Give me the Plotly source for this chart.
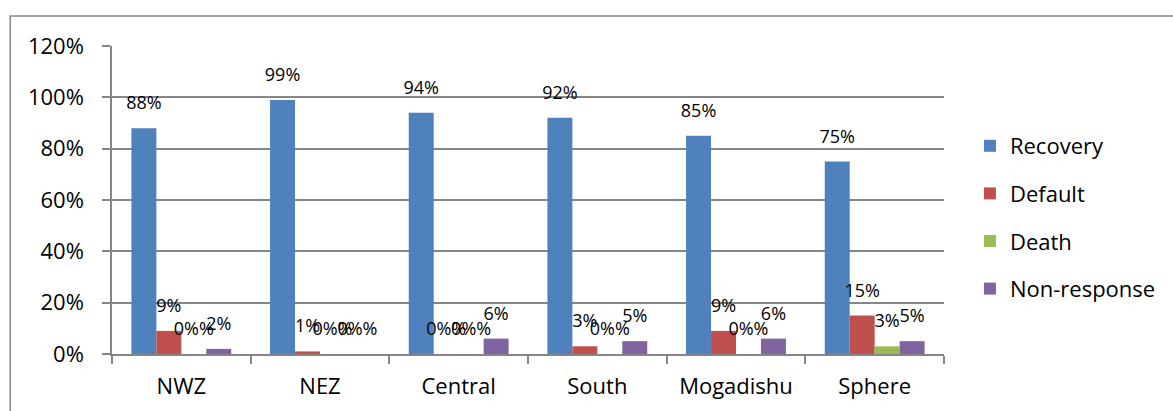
import plotly.graph_objects as go

categories = ["NWZ", "NEZ", "Central", "South", "Mogadishu", "Sphere"]
recovery = [88, 99, 94, 92, 85, 75]
default = [9, 1, 0, 3, 9, 15]
death = [0, 0, 0, 0, 0, 3]
non_response = [2, 0, 6, 5, 6, 5]
y_ticks = [0, 20, 40, 60, 80, 100, 120]

series = [
    ("Recovery", recovery, "#4F81BD"),
    ("Default", default, "#C0504D"),
    ("Death", death, "#9BBB59"),
    ("Non-response", non_response, "#8064A2"),
]

FONT = "'Open Sans', Calibri, Carlito, sans-serif"

fig = go.Figure()
for i, (name, vals, color) in enumerate(series):
    fig.add_trace(go.Bar(
        x=categories, y=vals, name=name,
        marker=dict(color=color, line=dict(width=0)),
        text=vals,
        texttemplate="<span style='font-size:18px'>%{y}%</span><br> ",
        textposition="outside",
        textangle=0,
        constraintext="none",
        cliponaxis=False,
        textfont=dict(family=FONT, size=10, color="#000000"),
        legendgroup=name,
    ))

W, H = 1173, 411
L, R, T, B = 112, W - 946, 46, H - 354
pw, ph = W - L - R, H - T - B

fig.update_layout(
    width=W, height=H,
    margin=dict(l=L, r=R, t=T, b=B, pad=0),
    paper_bgcolor="white", plot_bgcolor="white",
    barmode="group", bargap=0.28, bargroupgap=0,
    font=dict(family=FONT, size=22, color="#000000"),
    showlegend=True,
    legend=dict(
        x=(972 - L) / pw, y=(354 - 125) / ph, xanchor="left", yanchor="top",
        font=dict(family=FONT, size=22, color="#000000"),
        tracegroupgap=16, itemwidth=30,
        bgcolor="rgba(0,0,0,0)",
    ),
    uniformtext=dict(mode=False),
)
fig.update_xaxes(
    type="category",
    showline=True, linecolor="#868686", linewidth=1.5,
    ticks="outside", tickson="boundaries", ticklen=8, tickcolor="#868686", tickwidth=1.5,
    showgrid=False,
    tickfont=dict(family=FONT, size=22, color="#000000"),
    ticklabelstandoff=12,
)
fig.update_yaxes(
    range=[0, 120], tickvals=y_ticks, ticktext=[f"{v}%" for v in y_ticks],
    showline=True, linecolor="#868686", linewidth=1.5,
    ticks="outside", ticklen=8, tickcolor="#868686", tickwidth=1.5,
    showgrid=True, gridcolor="#868686", gridwidth=1.5,
    zeroline=False,
    tickfont=dict(family=FONT, size=22, color="#000000"),
    ticklabelstandoff=14,
)
# chart-area border (Excel style)
fig.add_shape(
    type="rect", xref="paper", yref="paper",
    x0=(10 - L) / pw, x1=(W + 20 - L) / pw,
    y0=(354 - (H + 20)) / ph, y1=(354 - 16) / ph,
    line=dict(color="#868686", width=1.5), fillcolor="rgba(0,0,0,0)", layer="below",
)

fig.write_html("out.html")
